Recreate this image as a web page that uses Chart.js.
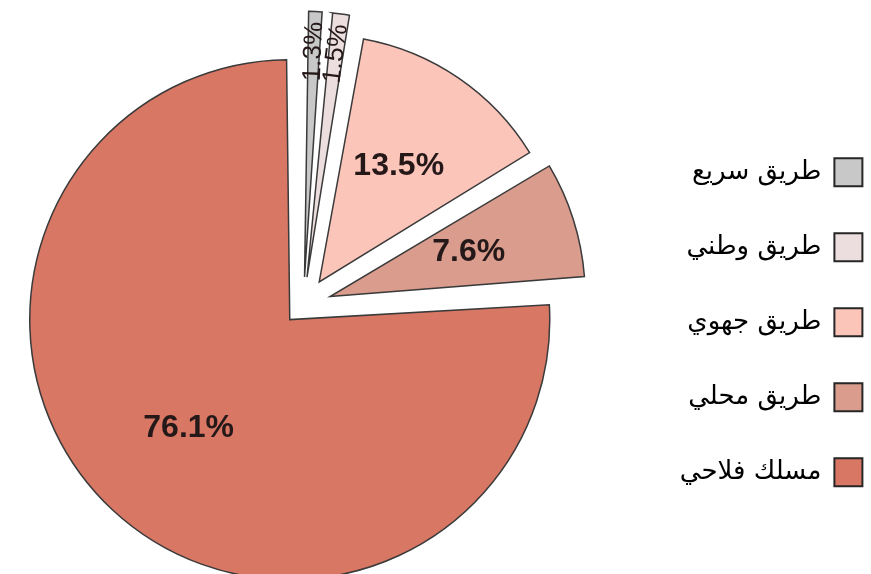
<!DOCTYPE html>
<html>
<head>
<meta charset="utf-8">
<script src="https://cdn.jsdelivr.net/npm/chart.js@4.4.1/dist/chart.umd.min.js"></script>
<style>
  html, body { margin: 0; padding: 0; background: #fff; overflow: hidden; width: 871px; height: 574px; }
  /* canvas runs past both edges so the pie sits left and the legend hugs the right side */
  #wrap { position: absolute; top: 0; height: 574px; }
</style>
</head>
<body>
<div id="wrap"><canvas id="roadChart"></canvas></div>
<script>
// road network share by road type (%)
const categories = ['طريق سريع', 'طريق وطني', 'طريق جهوي', 'طريق محلي', 'مسلك فلاحي'];
const shares = [1.3, 1.5, 13.5, 7.6, 76.1];

const sliceColors = ['#c8c8c8', '#ecdede', '#fcc5b9', '#d99c8d', '#d87764'];
const sliceOffsets = [112, 112, 112, 112, 80];

// legend box metrics
const legendFont = { family: '"DejaVu Sans", sans-serif', size: 26 };
const legendBox = 28;
const legendPad = 47;

// size the wrapper so the legend ends at the right edge and the pie centre lands at x=303
const pieCenterX = 303;
const legendRight = 909;
const probe = document.createElement('canvas').getContext('2d');
probe.font = legendFont.size + 'px ' + legendFont.family;
const textW = Math.max(...categories.map(c => probe.measureText(c).width));
const legendW = legendPad + legendBox + legendFont.size / 2 + textW + 10;
const wrap = document.getElementById('wrap');
wrap.style.left = (legendW - pieCenterX) + 'px';
wrap.style.width = (legendRight + pieCenterX - legendW) + 'px';

// percentage labels inside the slices, rotated for the thin ones
const sliceLabels = {
    id: 'sliceLabels',
    afterDatasetsDraw(chart) {
        const ctx = chart.ctx;
        const meta = chart.getDatasetMeta(0);
        meta.data.forEach((arc, i) => {
            const { x, y, startAngle, endAngle, outerRadius, circumference } =
                arc.getProps(['x', 'y', 'startAngle', 'endAngle', 'outerRadius', 'circumference'], true);
            const shift = (arc.options.offset || 0) / 4;
            const mid = (startAngle + endAngle) / 2;
            const r = outerRadius + shift * (1 - Math.sin(Math.min(Math.PI, circumference)));
            const cx = x + Math.cos(mid) * shift;
            const cy = y + Math.sin(mid) * shift;
            const text = shares[i].toFixed(1) + '%';

            ctx.save();
            ctx.fillStyle = '#241818';
            ctx.textAlign = 'center';
            ctx.textBaseline = 'middle';
            if (circumference < 0.2) {
                const d = r - 40;
                ctx.font = '26px "Liberation Sans", Arial, sans-serif';
                ctx.translate(cx + Math.cos(mid) * d, cy + Math.sin(mid) * d);
                ctx.rotate(mid);
                ctx.fillText(text, 0, 0);
            } else {
                const d = r * 0.57;
                ctx.font = 'bold 32px "Liberation Sans", Arial, sans-serif';
                ctx.fillText(text, cx + Math.cos(mid) * d, cy + Math.sin(mid) * d);
            }
            ctx.restore();
        });
    }
};

const ctx = document.getElementById('roadChart').getContext('2d');
new Chart(ctx, {
    type: 'pie',
    data: {
        labels: categories,
        datasets: [{
            data: shares,
            backgroundColor: sliceColors,
            borderColor: '#3a3a3a',
            borderWidth: 1.5,
            borderJoinStyle: 'miter',
            offset: sliceOffsets
        }]
    },
    options: {
        responsive: true,
        maintainAspectRatio: false,
        animation: false,
        events: [],
        radius: 240,
        layout: { padding: { top: 36, right: 0, bottom: 0, left: 0 } },
        plugins: {
            tooltip: { enabled: false },
            legend: {
                position: 'right',
                rtl: true,
                title: { display: true, text: '', padding: { top: 0, bottom: 20 } },
                labels: {
                    boxWidth: legendBox,
                    boxHeight: legendBox,
                    padding: legendPad,
                    color: '#000',
                    font: legendFont,
                    generateLabels(chart) {
                        return Chart.overrides.doughnut.plugins.legend.labels.generateLabels(chart)
                            .map(item => ({ ...item, strokeStyle: '#262626', lineWidth: 2 }));
                    }
                }
            }
        }
    },
    plugins: [sliceLabels]
});
</script>
</body>
</html>
